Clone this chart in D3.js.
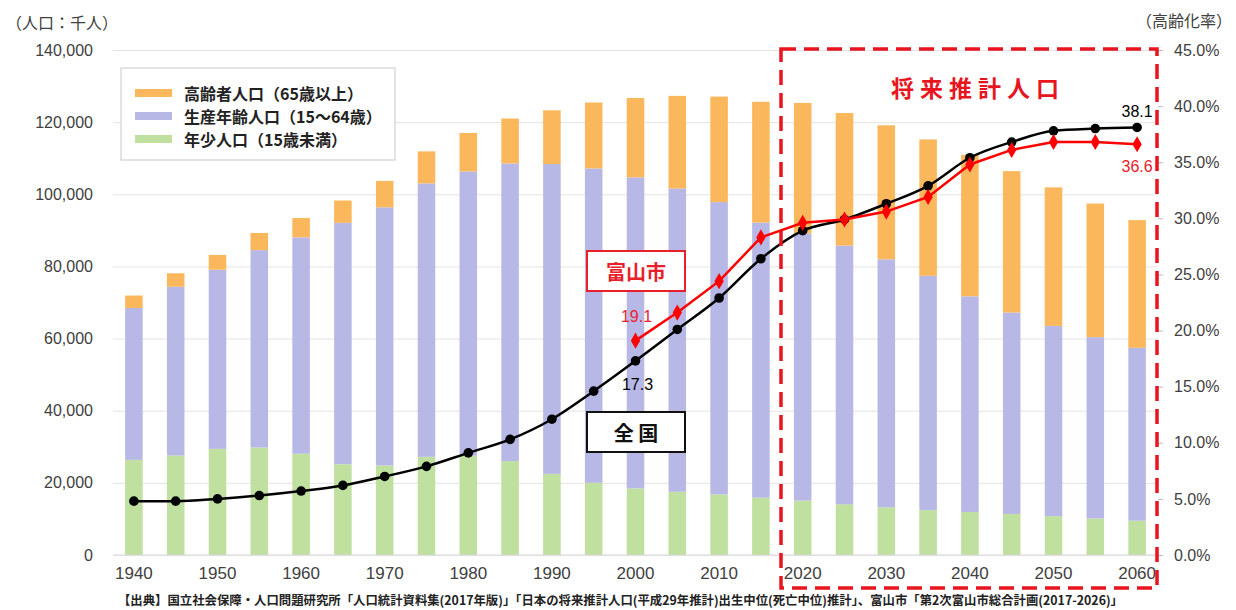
<!DOCTYPE html>
<html>
<head>
<meta charset="utf-8">
<script src="https://cdn.jsdelivr.net/npm/d3@7"></script>
<style>
  body { margin: 0; background: #fff; }
  svg { display: block; }
  .jp { font-family: "Noto Sans CJK JP", sans-serif; }
  .num { font-family: "Liberation Sans", Arial, sans-serif; }
</style>
</head>
<body>
<div id="chart"></div>
<script>
  // Years on the category axis (the 1945 bar is the 1947 census)
  const years = ['1940', '1945', '1950', '1955', '1960', '1965', '1970', '1975', '1980',
    '1985', '1990', '1995', '2000', '2005', '2010', '2015', '2020', '2025', '2030',
    '2035', '2040', '2045', '2050', '2055', '2060'];
  const yearLabels = ['1940', '1950', '1960', '1970', '1980', '1990', '2000', '2010',
    '2020', '2030', '2040', '2050', '2060'];

  // Population, thousands
  const young = [26369, 27573, 29428, 29798, 28067, 25166, 24823, 27221, 27507, 26033,
    22486, 20014, 18472, 17521, 16803, 15887, 15075, 14073, 13212, 12457, 11936, 11384,
    10767, 10123, 9508];
  const working = [42109, 46783, 49658, 54729, 60002, 66928, 71566, 75807, 78835, 82506,
    85904, 87165, 86220, 84092, 81032, 76282, 74058, 71701, 68754, 64942, 59777, 55845,
    52750, 50276, 47928];
  const elderly = [3454, 3745, 4109, 4747, 5350, 6181, 7331, 8865, 10647, 12468, 14895,
    18261, 22005, 25672, 29246, 33465, 36192, 36771, 37160, 37817, 39206, 39192, 38406,
    37042, 35403];

  // Ageing rate, %
  const nationRate = [4.8, 4.8, 5.0, 5.3, 5.7, 6.2, 7.0, 7.9, 9.1, 10.3, 12.1, 14.6, 17.3,
    20.1, 22.9, 26.4, 28.9, 29.9, 31.3, 32.9, 35.4, 36.8, 37.8, 38.0, 38.1];
  const toyamaRate = [null, null, null, null, null, null, null, null, null, null, null,
    null, 19.1, 21.6, 24.4, 28.3, 29.6, 29.9, 30.6, 31.9, 34.8, 36.1, 36.8, 36.8, 36.6];

  const popTicks = [0, 20000, 40000, 60000, 80000, 100000, 120000, 140000];
  const rateTicks = [0, 5, 10, 15, 20, 25, 30, 35, 40, 45];

  const seriesNames = ['高齢者人口（65歳以上）', '生産年齢人口（15～64歳）', '年少人口（15歳未満）'];
  const seriesKeys = ['elderly', 'working', 'young'];
  const colors = {elderly: '#fbb75c', working: '#b8b8e6', young: '#bfe09f'};

  const width = 1236;
  const height = 610;
  const plotLeft = 113, plotRight = 1158, plotTop = 50, plotBottom = 555;

  const svg = d3.select('#chart')
    .append('svg')
    .attr('width', width)
    .attr('height', height);

  const x = d3.scaleBand()
    .domain(years)
    .range([plotLeft, plotRight])
    .paddingInner(0.58)
    .paddingOuter(0.29);
  const y = d3.scaleLinear().domain([0, 140000]).range([plotBottom, plotTop]);
  const y2 = d3.scaleLinear().domain([0, 45]).range([plotBottom, plotTop]);

  // Grid lines
  svg.append('g')
    .attr('transform', `translate(${plotLeft},0)`)
    .call(d3.axisLeft(y).tickValues(popTicks).tickSize(-(plotRight - plotLeft)).tickFormat(''))
    .call(g => g.select('.domain').remove())
    .call(g => g.selectAll('line').attr('stroke', '#e4e4e4'));

  // Left axis labels
  svg.append('g')
    .attr('transform', 'translate(93,0)')
    .call(d3.axisLeft(y).tickValues(popTicks).tickSize(0).tickFormat(d3.format(',')))
    .call(g => g.select('.domain').remove())
    .call(g => g.selectAll('text')
      .attr('class', 'num')
      .attr('x', 0)
      .style('font-size', '16px')
      .attr('fill', '#404040'));

  // Right axis
  svg.append('g')
    .attr('transform', `translate(${plotRight},0)`)
    .call(d3.axisRight(y2).tickValues(rateTicks).tickSize(5).tickPadding(11)
      .tickFormat(d => d.toFixed(1) + '%'))
    .call(g => g.select('.domain').remove())
    .call(g => g.selectAll('line').attr('stroke', '#bbb'))
    .call(g => g.selectAll('text')
      .attr('class', 'num')
      .style('font-size', '16px')
      .attr('fill', '#404040'));

  // Stacked bars
  const rows = years.map((yr, i) => ({
    year: yr, young: young[i], working: working[i], elderly: elderly[i]
  }));
  const stack = d3.stack().keys(['young', 'working', 'elderly'])(rows);

  svg.append('g')
    .selectAll('g')
    .data(stack)
    .enter()
    .append('g')
    .attr('fill', d => colors[d.key])
    .selectAll('rect')
    .data(d => d)
    .enter()
    .append('rect')
    .attr('x', d => x(d.data.year))
    .attr('width', x.bandwidth())
    .attr('y', d => y(d[1]))
    .attr('height', d => y(d[0]) - y(d[1]));

  // Baseline
  svg.append('line')
    .attr('x1', plotLeft).attr('x2', plotRight)
    .attr('y1', plotBottom).attr('y2', plotBottom)
    .attr('stroke', '#d9d9d9');

  // Year labels
  svg.append('g')
    .attr('transform', `translate(0,${plotBottom})`)
    .call(d3.axisBottom(x).tickValues(yearLabels).tickSize(0).tickPadding(12))
    .call(g => g.select('.domain').remove())
    .call(g => g.selectAll('text')
      .style('font-family', '"Liberation Sans Narrow", "Liberation Sans", sans-serif')
      .style('font-size', '17px')
      .attr('fill', '#404040'));

  // Ageing rate lines
  const cx = i => x(years[i]) + x.bandwidth() / 2;
  const smoothLine = d3.line()
    .x((d, i) => cx(i))
    .y(d => y2(d))
    .curve(d3.curveMonotoneX);
  const straightLine = d3.line()
    .defined(d => d != null)
    .x((d, i) => cx(i))
    .y(d => y2(d));

  svg.append('path')
    .attr('d', smoothLine(nationRate))
    .attr('fill', 'none')
    .attr('stroke', '#000')
    .attr('stroke-width', 2.5);
  svg.append('g')
    .selectAll('circle')
    .data(nationRate)
    .enter()
    .append('circle')
    .attr('cx', (d, i) => cx(i))
    .attr('cy', d => y2(d))
    .attr('r', 4.8)
    .attr('fill', '#000');

  svg.append('path')
    .attr('d', straightLine(toyamaRate))
    .attr('fill', 'none')
    .attr('stroke', '#ff0000')
    .attr('stroke-width', 2.5);
  svg.append('g')
    .selectAll('path')
    .data(toyamaRate.map((d, i) => [d, i]).filter(d => d[0] != null))
    .enter()
    .append('path')
    .attr('d', d3.symbol(d3.symbolDiamond, 75))
    .attr('transform', d => `translate(${cx(d[1])},${y2(d[0])})`)
    .attr('fill', '#ff0000');

  // Value labels
  const valueLabel = (txt, i, dy, color) => svg.append('text')
    .attr('class', 'num')
    .attr('x', cx(i))
    .attr('y', dy)
    .attr('text-anchor', 'middle')
    .style('font-size', '16px')
    .attr('fill', color)
    .text(txt);
  valueLabel('19.1', 12, 322, '#e8202a').attr('x', cx(12) + 1);
  valueLabel('17.3', 12, 390, '#000').attr('x', cx(12) + 2);
  valueLabel('38.1', 24, 117, '#000');
  valueLabel('36.6', 24, 172, '#e8202a');

  // Projection frame
  svg.append('rect')
    .attr('x', 781).attr('y', 49)
    .attr('width', 1157 - 781).attr('height', 588 - 49)
    .attr('fill', 'none')
    .attr('stroke', '#e8141e')
    .attr('stroke-width', 3.5)
    .attr('stroke-dasharray', '15,8');
  svg.append('text')
    .attr('class', 'jp')
    .attr('x', 978).attr('y', 87)
    .attr('text-anchor', 'middle')
    .attr('dominant-baseline', 'central')
    .style('font-size', '23px')
    .style('font-weight', 'bold')
    .style('letter-spacing', '6px')
    .attr('fill', '#e8141e')
    .text('将来推計人口');

  // Series tags
  const tag = (txt, yc, color) => {
    svg.append('rect')
      .attr('x', 587).attr('y', yc - 20)
      .attr('width', 98).attr('height', 40)
      .attr('fill', '#fff')
      .attr('stroke', color)
      .attr('stroke-width', 2);
    svg.append('text')
      .attr('class', 'jp')
      .attr('x', 636).attr('y', yc)
      .attr('text-anchor', 'middle')
      .attr('dominant-baseline', 'central')
      .style('font-size', '20px')
      .style('font-weight', 'bold')
      .attr('fill', color)
      .text(txt);
  };
  tag('富山市', 271, '#e8202a');
  tag('全 国', 432, '#111');

  // Legend
  const legend = svg.append('g');
  legend.append('rect')
    .attr('x', 121).attr('y', 68)
    .attr('width', 274).attr('height', 92)
    .attr('fill', '#fff')
    .attr('stroke', '#c8c8c8');
  const items = legend.selectAll('g.item')
    .data(seriesKeys)
    .enter()
    .append('g')
    .attr('transform', (d, i) => `translate(135, ${93 + i * 23})`);
  items.append('rect')
    .attr('x', 0).attr('y', -4)
    .attr('width', 37).attr('height', 8)
    .attr('fill', d => colors[d]);
  items.append('text')
    .attr('class', 'jp')
    .attr('x', 49).attr('y', 0)
    .attr('dominant-baseline', 'central')
    .style('font-size', '16px')
    .style('font-weight', 'bold')
    .attr('fill', '#222')
    .text((d, i) => seriesNames[i]);

  // Axis titles
  svg.append('text')
    .attr('class', 'jp')
    .attr('x', 6).attr('y', 22)
    .attr('dominant-baseline', 'central')
    .style('font-size', '16px')
    .attr('fill', '#404040')
    .text('（人口：千人）');
  svg.append('text')
    .attr('class', 'jp')
    .attr('x', 1232).attr('y', 20)
    .attr('text-anchor', 'end')
    .attr('dominant-baseline', 'central')
    .style('font-size', '16px')
    .attr('fill', '#404040')
    .text('（高齢化率）');

  // Source
  svg.append('text')
    .attr('class', 'jp')
    .attr('x', 118).attr('y', 599)
    .attr('dominant-baseline', 'central')
    .attr('textLength', 1005)
    .attr('lengthAdjust', 'spacingAndGlyphs')
    .style('font-size', '12.5px')
    .style('font-weight', 'bold')
    .attr('fill', '#222')
    .text('【出典】国立社会保障・人口問題研究所「人口統計資料集(2017年版)」「日本の将来推計人口(平成29年推計)出生中位(死亡中位)推計」、富山市「第2次富山市総合計画(2017-2026)」');
</script>
</body>
</html>
